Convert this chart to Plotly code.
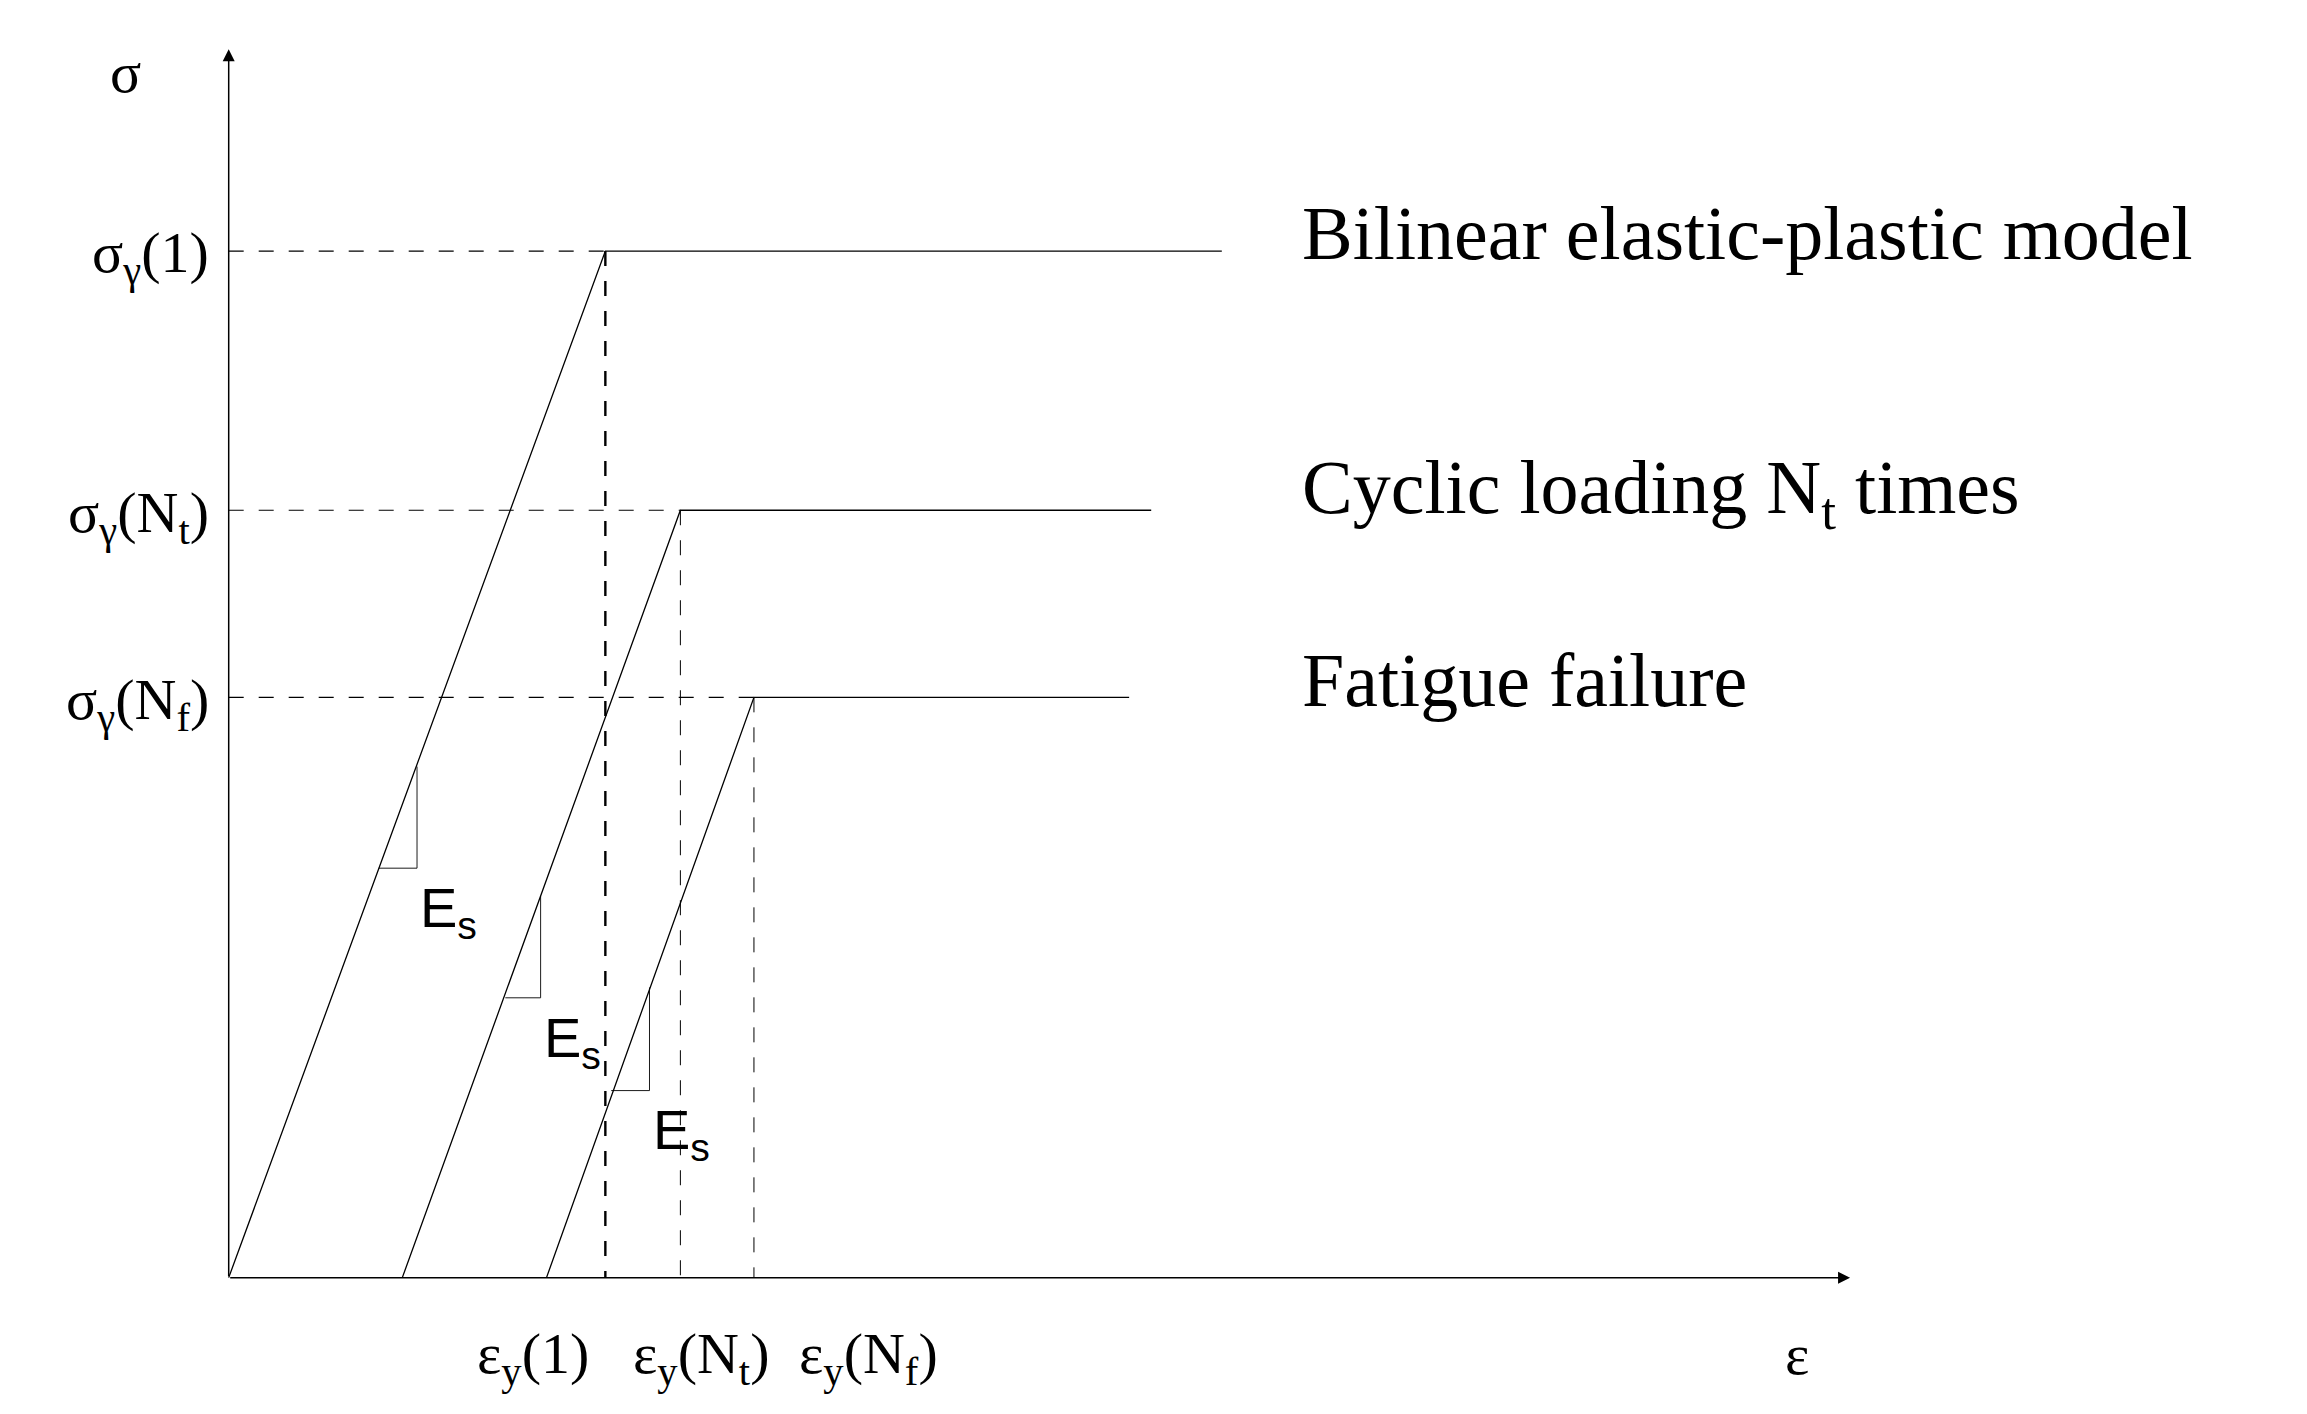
import plotly.graph_objects as go

# diagram values (arbitrary units)
sigma_y = [697, 521, 394]          # yield stresses: σγ(1), σγ(Nt), σγ(Nf)
eps_y = [256, 307, 357]            # yield strains
eps_0 = [0, 118, 216]              # residual strain offsets
eps_end = [675, 627, 612]          # end of plastic plateau
sigma_labels = ["σ<sub>γ</sub>(1)", "σ<sub>γ</sub>(N<sub>t</sub>)", "σ<sub>γ</sub>(N<sub>f</sub>)"]
eps_labels = ["ε<sub>y</sub>(1)", "ε<sub>y</sub>(N<sub>t</sub>)", "ε<sub>y</sub>(N<sub>f</sub>)"]
eps_label_pos = [207, 321, 435]
curve_names = ["Bilinear elastic-plastic model", "Cyclic loading N<sub>t</sub> times", "Fatigue failure"]
tri_sigma = [[278, 347], [190, 259], [127, 197]]   # slope triangle stress bounds
tri_eps = [[102, 128], [188, 212], [260, 286]]     # slope triangle strain bounds

SERIF = "Liberation Serif"
fig = go.Figure()
blk = dict(color="black", width=1.3)
for i in range(3):
    fig.add_trace(go.Scatter(x=[eps_0[i], eps_y[i], eps_end[i]], y=[0, sigma_y[i], sigma_y[i]],
                             mode="lines", line=blk))
    fig.add_trace(go.Scatter(x=[0, eps_y[i]], y=[sigma_y[i], sigma_y[i]], mode="lines",
                             line=dict(color="black", width=1.2, dash="longdash")))
    fig.add_trace(go.Scatter(x=[eps_y[i], eps_y[i]], y=[sigma_y[i], 0], mode="lines",
                             line=dict(color="black", width=2.4 if i == 0 else 1.0, dash="longdash")))
    fig.add_trace(go.Scatter(x=[tri_eps[i][1], tri_eps[i][1], tri_eps[i][0]],
                             y=[tri_sigma[i][1], tri_sigma[i][0], tri_sigma[i][0]],
                             mode="lines", line=dict(color="black", width=0.9)))
    fig.add_annotation(x=tri_eps[i][1] + 1, y=tri_sigma[i][0] - 4, text="E<sub>s</sub>", showarrow=False,
                       xanchor="left", yanchor="top", font=dict(family="Liberation Sans", size=56, color="black"))
    fig.add_annotation(x=-12, y=sigma_y[i] - 4, text=sigma_labels[i], showarrow=False, xanchor="right",
                       font=dict(family=SERIF, size=58, color="black"))
    fig.add_annotation(x=eps_label_pos[i], y=-54, text=eps_labels[i], showarrow=False, xanchor="center",
                       font=dict(family=SERIF, size=58, color="black"))
    fig.add_annotation(x=728, y=sigma_y[i] + 12, text=curve_names[i], showarrow=False, xanchor="left",
                       font=dict(family=SERIF, size=76, color="black"))

# axes arrows
fig.add_annotation(x=1102, y=0, ax=0, ay=0, axref="x", ayref="y", xref="x", yref="y", text="",
                   showarrow=True, arrowhead=2, arrowsize=1.6, arrowwidth=1.5, arrowcolor="black")
fig.add_annotation(x=0, y=834, ax=0, ay=0, axref="x", ayref="y", xref="x", yref="y", text="",
                   showarrow=True, arrowhead=2, arrowsize=1.6, arrowwidth=1.5, arrowcolor="black")
fig.add_annotation(x=-70, y=818, text="σ", showarrow=False, font=dict(family=SERIF, size=58, color="black"))
fig.add_annotation(x=1066, y=-52, text="ε", showarrow=False, font=dict(family=SERIF, size=58, color="black"))

fig.update_layout(width=2307, height=1414, margin=dict(l=0, r=0, t=0, b=0), showlegend=False,
                  plot_bgcolor="white", paper_bgcolor="white",
                  xaxis=dict(range=[-150, 1418], visible=False),
                  yaxis=dict(range=[-98, 862], visible=False))
fig.write_html("out.html")
